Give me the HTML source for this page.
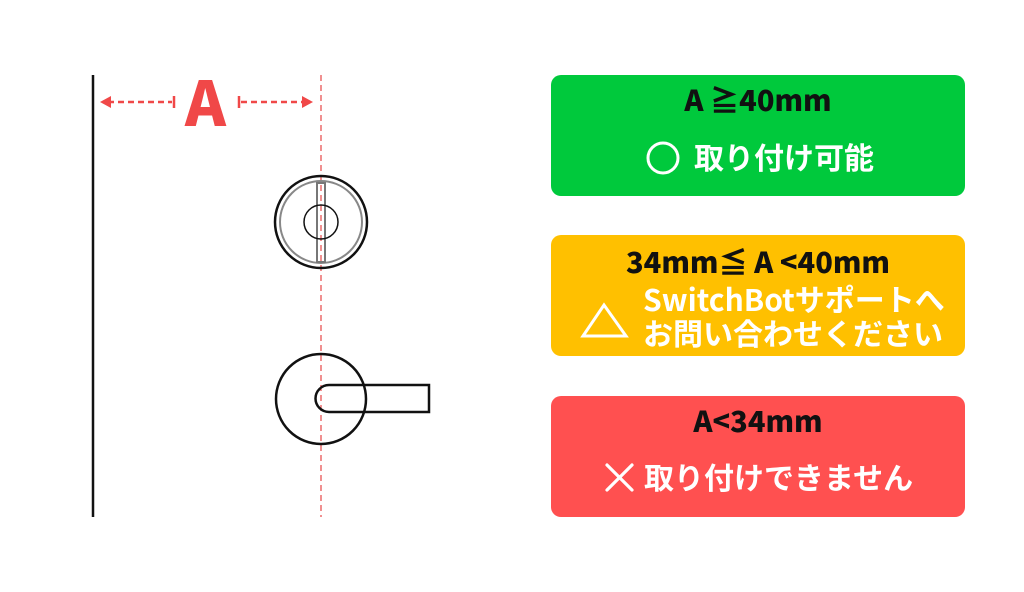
<!DOCTYPE html>
<html><head><meta charset="utf-8"><style>
html,body{margin:0;padding:0;background:#fff;}
svg{display:block;}
text{font-family:"Liberation Sans","Noto Sans CJK JP",sans-serif;}
.h{font-family:"Noto Sans CJK JP",sans-serif;font-weight:800;font-size:29px;fill:#111;}
.w{font-family:"Noto Sans CJK JP",sans-serif;font-weight:700;font-size:30px;fill:#fff;}
</style></head><body>
<svg width="1024" height="592" viewBox="0 0 1024 592" xmlns="http://www.w3.org/2000/svg">
<rect width="1024" height="592" fill="#fff"/>
<line x1="93" y1="75" x2="93" y2="517" stroke="#111" stroke-width="2.5"/>
<line x1="321" y1="75" x2="321" y2="517" stroke="#e85555" stroke-width="1.3" stroke-dasharray="6,4"/>
<g stroke="#f04848" stroke-width="2.5" fill="#f04848">
<line x1="108" y1="102" x2="172" y2="102" stroke-dasharray="6,4"/>
<polygon points="100,102 111,96 111,108" stroke="none"/>
<line x1="174" y1="96" x2="174" y2="108"/>
<line x1="239" y1="96" x2="239" y2="108"/>
<line x1="241" y1="102" x2="304" y2="102" stroke-dasharray="6,4"/>
<polygon points="313,102 302,96 302,108" stroke="none"/>
</g>
<text x="205.5" y="126" text-anchor="middle" style="font-family:'Noto Sans CJK JP',sans-serif;font-weight:900;font-size:62px;fill:#f04848">A</text>
<circle cx="321" cy="222" r="46" fill="none" stroke="#111" stroke-width="2.5"/>
<circle cx="321" cy="222" r="41" fill="none" stroke="#888" stroke-width="2"/>
<rect x="317" y="183" width="8" height="79" fill="none" stroke="#777" stroke-width="2"/>
<circle cx="321" cy="222" r="17" fill="none" stroke="#111" stroke-width="1.5"/>
<circle cx="321" cy="399" r="45" fill="none" stroke="#111" stroke-width="2.5"/>
<path d="M329,385 H429 V412 H329 A13.5,13.5 0 0 1 329,385 Z" fill="none" stroke="#111" stroke-width="2.5"/>
<rect x="551" y="75" width="414" height="121" rx="10" fill="#00c93c"/>
<text x="758" y="111" text-anchor="middle" class="h">A ≧40mm</text>
<circle cx="663" cy="158" r="15" fill="none" stroke="#fff" stroke-width="3"/>
<text x="694" y="169" class="w">取り付け可能</text>
<rect x="551" y="235" width="414" height="121" rx="10" fill="#ffc000"/>
<text x="758" y="273" text-anchor="middle" class="h">34mm≦ A &lt;40mm</text>
<polygon points="604,305 626,336 583,336" fill="none" stroke="#fff" stroke-width="3"/>
<text x="643" y="311" class="w">SwitchBotサポートへ</text>
<text x="643" y="345" class="w">お問い合わせください</text>
<rect x="551" y="396" width="414" height="121" rx="10" fill="#ff5050"/>
<text x="758" y="432" text-anchor="middle" class="h">A&lt;34mm</text>
<g stroke="#fff" stroke-width="3.2" stroke-linecap="round">
<line x1="607" y1="465" x2="632" y2="490"/>
<line x1="632" y1="465" x2="607" y2="490"/>
</g>
<text x="644" y="489" class="w">取り付けできません</text>
</svg>
</body></html>
